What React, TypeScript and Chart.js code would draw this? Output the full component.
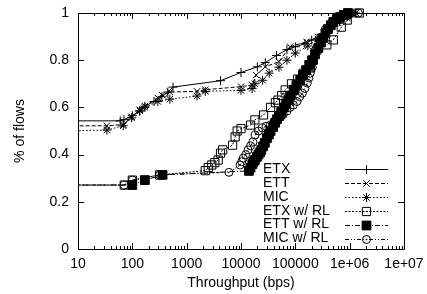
import React, { useEffect, useRef } from 'react';
import { Chart, registerables } from 'chart.js';

Chart.register(...registerables);

const xTickValues = [10, 100, 1000, 10000, 100000, 1e6, 1e7];
const xTickLabels = ['10', '100', '1000', '10000', '100000', '1e+06', '1e+07'];
const yTickValues = [0, 0.2, 0.4, 0.6, 0.8, 1];
const yTickLabels = ['0', '0.2', '0.4', '0.6', '0.8', '1'];

const seriesLabels = ['ETX', 'ETT', 'MIC', 'ETX w/ RL', 'ETT w/ RL', 'MIC w/ RL'];

const etx = [
  [5, 0.543], [60, 0.543], [70, 0.548], [100, 0.565], [135, 0.585], [170, 0.605], [250, 0.625],
  [350, 0.645], [450, 0.665], [560, 0.686], [4200, 0.713], [10000, 0.748], [20000, 0.772],
  [28000, 0.79], [45000, 0.82], [70000, 0.845], [100000, 0.857], [150000, 0.87], [200000, 0.885],
  [300000, 0.91], [450000, 0.94], [650000, 0.965], [900000, 0.985], [1200000, 1.0],
];
const ett = [
  [5, 0.522], [34, 0.522], [68, 0.527], [97, 0.56], [138, 0.59], [170, 0.606], [295, 0.64],
  [355, 0.652], [490, 0.665], [1550, 0.668], [2200, 0.675], [10000, 0.688], [16000, 0.695],
  [19000, 0.737], [28000, 0.772], [50000, 0.794], [80000, 0.857], [160000, 0.878], [260000, 0.9],
  [400000, 0.93], [600000, 0.96], [900000, 0.98], [1300000, 1.0],
];
const mic = [
  [5, 0.5], [34, 0.504], [68, 0.522], [97, 0.556], [138, 0.585], [170, 0.6], [295, 0.625],
  [490, 0.635], [1550, 0.648], [2200, 0.668], [10000, 0.672], [16000, 0.68], [18000, 0.7],
  [25000, 0.715], [33000, 0.745], [50000, 0.77], [70000, 0.8], [100000, 0.83], [170000, 0.86],
  [260000, 0.89], [400000, 0.93], [600000, 0.96], [900000, 0.985], [1300000, 1.0],
];
const etxRl = [
  [5, 0.271], [71, 0.271], [100, 0.292], [316, 0.314], [2200, 0.332], [2500, 0.345], [2900, 0.356],
  [3300, 0.366], [3800, 0.377], [4200, 0.406], [4600, 0.42], [7000, 0.44], [7800, 0.475],
  [8500, 0.5], [10000, 0.51], [15000, 0.525], [18000, 0.547], [26000, 0.568], [35000, 0.6],
  [43000, 0.62], [48000, 0.631], [56000, 0.65], [65000, 0.674], [85000, 0.7], [110000, 0.72],
  [140000, 0.745], [190000, 0.767], [215000, 0.8], [250000, 0.843], [380000, 0.865],
  [500000, 0.886], [700000, 0.94], [900000, 0.97], [1500000, 1.0],
];
const ettRl = [
  [5, 0.271], [100, 0.271], [170, 0.292], [360, 0.314], [14000, 0.331], [15000, 0.345],
  [16200, 0.36], [17000, 0.37], [18000, 0.377], [19500, 0.39], [21000, 0.4], [22500, 0.41],
  [23600, 0.42], [25500, 0.435], [27500, 0.45], [30000, 0.47], [32500, 0.485], [35000, 0.5],
  [39000, 0.517], [42500, 0.535], [46000, 0.55], [50000, 0.564], [55000, 0.58], [62000, 0.6],
  [68000, 0.615], [74000, 0.631], [82000, 0.65], [95000, 0.674], [105000, 0.695], [123000, 0.716],
  [138000, 0.737], [158000, 0.758], [180000, 0.78], [203000, 0.8], [230000, 0.825],
  [265000, 0.852], [295000, 0.875], [325000, 0.894], [360000, 0.915], [400000, 0.932],
  [450000, 0.948], [500000, 0.962], [580000, 0.975], [665000, 0.983], [780000, 0.992],
  [930000, 1.0],
];
const micRl = [
  [5, 0.271], [71, 0.271], [100, 0.292], [316, 0.314], [6000, 0.325], [9600, 0.356], [10300, 0.37],
  [11000, 0.385], [12200, 0.4], [13500, 0.42], [15000, 0.437], [16600, 0.453], [18200, 0.483],
  [21000, 0.5], [24600, 0.513], [29000, 0.52], [34500, 0.525], [41000, 0.535], [48000, 0.547],
  [54000, 0.56], [60000, 0.57], [70000, 0.585], [80000, 0.6], [92000, 0.61], [107000, 0.625],
  [120000, 0.645], [135000, 0.66], [150000, 0.68], [166000, 0.703], [178000, 0.725],
  [188000, 0.745], [205000, 0.77], [215000, 0.8], [230000, 0.84], [280000, 0.88], [355000, 0.93],
  [450000, 0.955], [615000, 0.98], [900000, 0.99], [1450000, 1.0],
];

const FONT = '"Liberation Sans", Arial, Helvetica, sans-serif';

type Style = { pointStyle: string; radius: number; dash: number[]; filled?: boolean; dotted?: boolean };
const styles: Style[] = [
  { pointStyle: 'cross', radius: 4.5, dash: [] },
  { pointStyle: 'crossRot', radius: 4.5, dash: [4, 2] },
  { pointStyle: 'star', radius: 4.5, dash: [1.5, 2] },
  { pointStyle: 'rect', radius: 5.8, dash: [2, 1.5], dotted: true },
  { pointStyle: 'rect', radius: 6.2, dash: [5, 2, 1, 2], filled: true },
  { pointStyle: 'circle', radius: 4, dash: [4, 2, 1, 2, 1, 2], dotted: true },
];

function drawMarker(ctx: CanvasRenderingContext2D, s: Style, x: number, y: number) {
  ctx.save();
  ctx.setLineDash([]);
  ctx.lineWidth = 1;
  ctx.strokeStyle = '#000';
  ctx.fillStyle = '#000';
  const r = s.radius;
  ctx.beginPath();
  if (s.pointStyle === 'cross' || s.pointStyle === 'star') {
    ctx.moveTo(x - r, y); ctx.lineTo(x + r, y);
    ctx.moveTo(x, y - r); ctx.lineTo(x, y + r);
  }
  if (s.pointStyle === 'crossRot' || s.pointStyle === 'star') {
    const d = r * Math.SQRT1_2;
    ctx.moveTo(x - d, y - d); ctx.lineTo(x + d, y + d);
    ctx.moveTo(x - d, y + d); ctx.lineTo(x + d, y - d);
  }
  if (s.pointStyle === 'rect') {
    const h = r * Math.SQRT1_2;
    ctx.rect(x - h, y - h, 2 * h, 2 * h);
    if (s.filled) ctx.fill();
  }
  if (s.pointStyle === 'circle') {
    ctx.arc(x, y, r, 0, Math.PI * 2);
  }
  ctx.stroke();
  if (s.dotted) {
    ctx.fillRect(x - 0.75, y - 0.75, 1.5, 1.5);
  }
  ctx.restore();
}

export default function App() {
  const ref = useRef<HTMLCanvasElement>(null);

  useEffect(() => {
    if (!ref.current) return;
    const all = [etx, ett, mic, etxRl, ettRl, micRl];
    const datasets = all.map((arr, i) => {
      const s = styles[i];
      return {
        label: seriesLabels[i],
        data: arr.map(([x, y]) => ({ x, y })),
        borderColor: '#000',
        borderWidth: 1,
        borderDash: s.dash,
        pointStyle: s.pointStyle as any,
        pointRadius: s.radius,
        pointBorderColor: '#000',
        pointBackgroundColor: s.filled ? '#000' : 'rgba(0,0,0,0)',
        pointBorderWidth: 1,
        tension: 0,
        fill: false,
        clip: { left: 0, top: 6, right: 0, bottom: 0 },
      };
    });

    const framePlugin = {
      id: 'frame',
      afterDraw(chart: any) {
        const { ctx, chartArea: a, scales } = chart;
        const xs = scales.x;
        const ys = scales.y;
        ctx.save();
        ctx.strokeStyle = '#000';
        ctx.lineWidth = 1;
        ctx.setLineDash([]);
        ctx.beginPath();
        ctx.rect(Math.round(a.left) + 0.5, Math.round(a.top) + 0.5, Math.round(a.right - a.left), Math.round(a.bottom - a.top));
        ctx.stroke();
        ctx.beginPath();
        for (let d = 0; d < xTickValues.length; d++) {
          const base = xTickValues[d];
          for (let k = 1; k <= 9; k++) {
            const v = base * k;
            if (v > xTickValues[xTickValues.length - 1]) break;
            const px = Math.round(xs.getPixelForValue(v)) + 0.5;
            const len = k === 1 ? 6 : 3;
            ctx.moveTo(px, a.bottom); ctx.lineTo(px, a.bottom - len);
            ctx.moveTo(px, a.top); ctx.lineTo(px, a.top + len);
          }
        }
        for (const v of yTickValues) {
          const py = Math.round(ys.getPixelForValue(v)) + 0.5;
          ctx.moveTo(a.left, py); ctx.lineTo(a.left + 6, py);
          ctx.moveTo(a.right, py); ctx.lineTo(a.right - 6, py);
        }
        ctx.stroke();

        ctx.font = `14px ${FONT}`;
        ctx.fillStyle = '#000';
        ctx.textBaseline = 'middle';
        ctx.textAlign = 'left';
        const textX = a.right - 141;
        const lineX0 = a.right - 59;
        const lineX1 = a.right - 16;
        seriesLabels.forEach((lab, i) => {
          const y = a.top + 156 + i * 13.9;
          ctx.fillText(lab, textX, y);
          ctx.beginPath();
          ctx.setLineDash(styles[i].dash);
          ctx.moveTo(lineX0, Math.round(y) + 0.5);
          ctx.lineTo(lineX1, Math.round(y) + 0.5);
          ctx.stroke();
          drawMarker(ctx, styles[i], (lineX0 + lineX1) / 2, Math.round(y) + 0.5);
        });
        ctx.restore();
      },
    };

    const chart = new Chart(ref.current, {
      type: 'line',
      data: { datasets: datasets as any },
      options: {
        animation: false,
        responsive: false,
        devicePixelRatio: 1,
        layout: { padding: { top: 13, right: 23, bottom: 0, left: 0 } },
        plugins: { legend: { display: false }, tooltip: { enabled: false } },
        scales: {
          x: {
            type: 'logarithmic',
            min: 10,
            max: 1e7,
            grid: { display: false, drawTicks: false },
            border: { display: false },
            afterBuildTicks: (scale: any) => {
              scale.ticks = xTickValues.map((v) => ({ value: v }));
            },
            afterFit: (scale: any) => {
              scale.height = 45;
              scale.paddingLeft = 0;
              scale.paddingRight = 0;
            },
            ticks: {
              autoSkip: false,
              maxRotation: 0,
              padding: 7,
              color: '#000',
              font: { family: FONT, size: 14 },
              callback: (_v: any, i: number) => xTickLabels[i],
            },
            title: {
              display: true,
              text: 'Throughput (bps)',
              color: '#000',
              font: { family: FONT, size: 14 },
              padding: { top: 0, bottom: 2 },
            },
          },
          y: {
            type: 'linear',
            min: 0,
            max: 1,
            grid: { display: false, drawTicks: false },
            border: { display: false },
            afterBuildTicks: (scale: any) => {
              scale.ticks = yTickValues.map((v) => ({ value: v }));
            },
            afterFit: (scale: any) => {
              scale.width = 78;
              scale.paddingTop = 0;
              scale.paddingBottom = 0;
            },
            ticks: {
              padding: 9,
              color: '#000',
              font: { family: FONT, size: 14 },
              callback: (_v: any, i: number) => yTickLabels[i],
            },
            title: {
              display: true,
              text: '% of flows',
              color: '#000',
              font: { family: FONT, size: 14 },
              padding: { top: 12, bottom: 0 },
            },
          },
        },
      },
      plugins: [framePlugin],
    });
    return () => chart.destroy();
  }, []);

  return (
    <div style={{ position: 'absolute', left: 0, top: 0, width: 427, height: 294, background: '#fff' }}>
      <canvas ref={ref} width={427} height={294} style={{ width: 427, height: 294 }} />
    </div>
  );
}
